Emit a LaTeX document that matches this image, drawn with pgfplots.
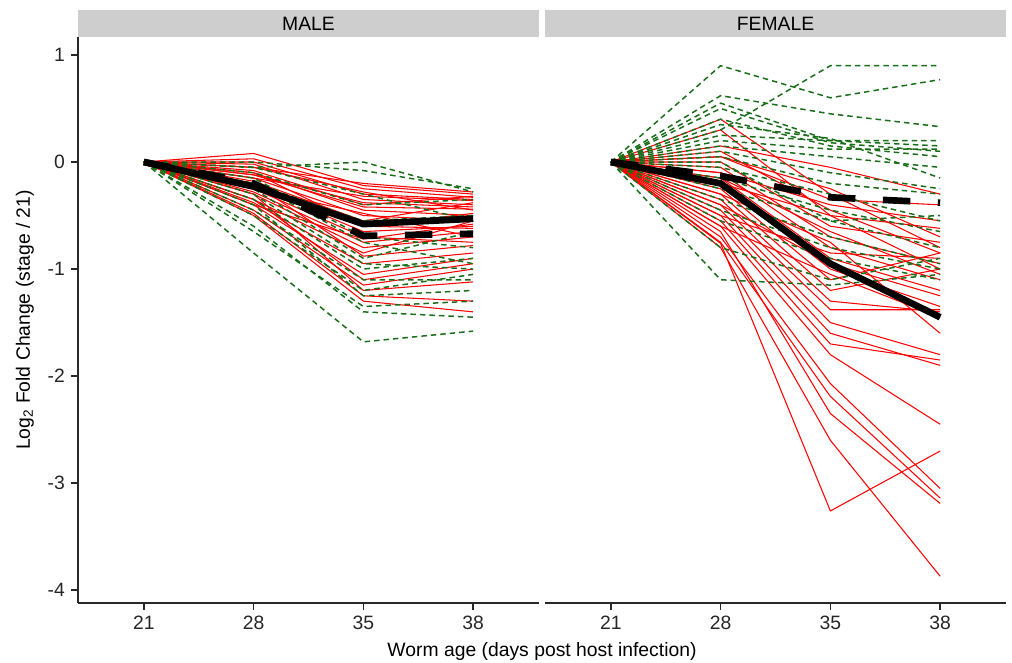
\documentclass[border=0pt]{standalone}
\usepackage{pgfplots}
\pgfplotsset{compat=1.18}
\usepackage{fontspec}
\setmainfont{Liberation Sans}
\definecolor{dgreen}{RGB}{25,110,25}
\definecolor{stripgray}{RGB}{206,206,206}
\definecolor{axgray}{RGB}{40,40,40}
\pgfplotsset{
  panel/.style={
    scale only axis, width=92.2mm, height=113.2mm,
    xmin=0.4, xmax=4.6, ymin=-4.12, ymax=1.168,
    xtick={1,2,3,4}, xticklabels={21,28,35,38},
    axis x line*=bottom,
    axis line style={axgray, line width=1.1pt, -},
    tick style={axgray, line width=0.8pt},
    tick align=outside, major tick length=1.4mm,
    ticklabel style={font=\fontsize{11}{13}\selectfont, text=black!85},
    clip=false,
  },
  r/.style={red, line width=0.6pt, no marks},
  g/.style={dgreen, line width=0.85pt, dash pattern=on 1.1mm off 0.8mm, no marks},
  ms/.style={black, line width=3.8pt, no marks},
  md/.style={black, line width=3.8pt, dash pattern=on 5.5mm off 5.5mm, no marks},
}
\begin{document}
\begin{tikzpicture}
\useasboundingbox (0,0) rectangle (202.4mm,-132.6mm);

% ---------------- MALE ----------------
\begin{axis}[panel, at={(15.6mm,-120.6mm)}, anchor=south west,
  axis y line*=left,
  ytick={-4,-3,-2,-1,0,1}, yticklabels={-4,-3,-2,-1,0,1}]
\fill[stripgray] (rel axis cs:0,1) rectangle ([yshift=5.4mm]rel axis cs:1,1);
\node[font=\fontsize{11}{13}\selectfont] at ([yshift=2.7mm]rel axis cs:0.5,1) {MALE};
% red
\addplot[r] coordinates {(1,0)(2,0.08)(3,-0.22)(4,-0.30)};
\addplot[r] coordinates {(1,0)(2,0.03)(3,-0.25)(4,-0.33)};
\addplot[r] coordinates {(1,0)(2,0.00)(3,-0.30)(4,-0.35)};
\addplot[r] coordinates {(1,0)(2,-0.02)(3,-0.35)(4,-0.40)};
\addplot[r] coordinates {(1,0)(2,-0.05)(3,-0.28)(4,-0.45)};
\addplot[r] coordinates {(1,0)(2,-0.08)(3,-0.40)(4,-0.32)};
\addplot[r] coordinates {(1,0)(2,-0.10)(3,-0.45)(4,-0.50)};
\addplot[r] coordinates {(1,0)(2,-0.12)(3,-0.38)(4,-0.42)};
\addplot[r] coordinates {(1,0)(2,-0.15)(3,-0.50)(4,-0.55)};
\addplot[r] coordinates {(1,0)(2,-0.18)(3,-0.55)(4,-0.38)};
\addplot[r] coordinates {(1,0)(2,-0.20)(3,-0.60)(4,-0.48)};
\addplot[r] coordinates {(1,0)(2,-0.22)(3,-0.65)(4,-0.60)};
\addplot[r] coordinates {(1,0)(2,-0.25)(3,-0.70)(4,-0.75)};
\addplot[r] coordinates {(1,0)(2,-0.28)(3,-0.75)(4,-0.65)};
\addplot[r] coordinates {(1,0)(2,-0.30)(3,-0.80)(4,-0.70)};
\addplot[r] coordinates {(1,0)(2,-0.35)(3,-0.85)(4,-0.55)};
\addplot[r] coordinates {(1,0)(2,-0.38)(3,-0.95)(4,-0.85)};
\addplot[r] coordinates {(1,0)(2,-0.40)(3,-1.05)(4,-0.90)};
\addplot[r] coordinates {(1,0)(2,-0.45)(3,-1.15)(4,-1.00)};
\addplot[r] coordinates {(1,0)(2,-0.48)(3,-1.25)(4,-1.30)};
\addplot[r] coordinates {(1,0)(2,-0.50)(3,-1.30)(4,-1.40)};
\addplot[r] coordinates {(1,0)(2,-0.30)(3,-1.20)(4,-1.12)};
\addplot[r] coordinates {(1,0)(2,-0.20)(3,-0.88)(4,-0.78)};
\addplot[r] coordinates {(1,0)(2,-0.10)(3,-0.60)(4,-0.62)};
\addplot[r] coordinates {(1,0)(2,-0.05)(3,-0.20)(4,-0.28)};
\addplot[r] coordinates {(1,0)(2,-0.15)(3,-0.32)(4,-0.36)};
\addplot[r] coordinates {(1,0)(2,-0.25)(3,-0.48)(4,-0.70)};
\addplot[r] coordinates {(1,0)(2,-0.35)(3,-1.10)(4,-0.95)};
\addplot[r] coordinates {(1,0)(2,-0.12)(3,-0.42)(4,-0.44)};
\addplot[r] coordinates {(1,0)(2,-0.40)(3,-0.72)(4,-0.58)};
% green
\addplot[g] coordinates {(1,0)(2,-0.85)(3,-1.68)(4,-1.58)};
\addplot[g] coordinates {(1,0)(2,-0.60)(3,-1.40)(4,-1.45)};
\addplot[g] coordinates {(1,0)(2,-0.05)(3,0.00)(4,-0.28)};
\addplot[g] coordinates {(1,0)(2,0.00)(3,-0.08)(4,-0.25)};
\addplot[g] coordinates {(1,0)(2,-0.05)(3,-0.30)(4,-0.55)};
\addplot[g] coordinates {(1,0)(2,-0.20)(3,-0.55)(4,-0.50)};
\addplot[g] coordinates {(1,0)(2,-0.25)(3,-0.90)(4,-0.65)};
\addplot[g] coordinates {(1,0)(2,-0.30)(3,-0.95)(4,-1.00)};
\addplot[g] coordinates {(1,0)(2,-0.35)(3,-1.00)(4,-0.90)};
\addplot[g] coordinates {(1,0)(2,-0.45)(3,-1.10)(4,-1.10)};
\addplot[g] coordinates {(1,0)(2,-0.50)(3,-1.20)(4,-1.05)};
\addplot[g] coordinates {(1,0)(2,-0.15)(3,-0.70)(4,-0.80)};
\addplot[g] coordinates {(1,0)(2,-0.10)(3,-0.40)(4,-0.35)};
\addplot[g] coordinates {(1,0)(2,-0.40)(3,-1.25)(4,-1.20)};
\addplot[g] coordinates {(1,0)(2,-0.65)(3,-1.35)(4,-1.30)};
\addplot[g] coordinates {(1,0)(2,-0.20)(3,-0.75)(4,-0.95)};
% means
\addplot[md] coordinates {(1,0)(2,-0.20)(3,-0.69)(4,-0.67)};
\addplot[ms] coordinates {(1,0)(2,-0.23)(3,-0.58)(4,-0.53)};
\end{axis}

% ---------------- FEMALE ----------------
\begin{axis}[panel, at={(109mm,-120.6mm)}, anchor=south west,
  axis y line=none, ytick=\empty]
\fill[stripgray] (rel axis cs:0,1) rectangle ([yshift=5.4mm]rel axis cs:1,1);
\node[font=\fontsize{11}{13}\selectfont] at ([yshift=2.7mm]rel axis cs:0.5,1) {FEMALE};
% red
\addplot[r] coordinates {(1,0)(2,0.40)(3,-0.30)(4,-0.80)};
\addplot[r] coordinates {(1,0)(2,0.30)(3,-0.50)(4,-1.00)};
\addplot[r] coordinates {(1,0)(2,0.15)(3,-0.05)(4,-0.30)};
\addplot[r] coordinates {(1,0)(2,0.05)(3,-0.35)(4,-0.40)};
\addplot[r] coordinates {(1,0)(2,0.00)(3,-0.60)(4,-0.75)};
\addplot[r] coordinates {(1,0)(2,-0.05)(3,-0.70)(4,-0.95)};
\addplot[r] coordinates {(1,0)(2,-0.10)(3,-0.80)(4,-1.10)};
\addplot[r] coordinates {(1,0)(2,-0.15)(3,-0.90)(4,-1.20)};
\addplot[r] coordinates {(1,0)(2,-0.20)(3,-1.00)(4,-1.35)};
\addplot[r] coordinates {(1,0)(2,-0.25)(3,-1.10)(4,-0.85)};
\addplot[r] coordinates {(1,0)(2,-0.30)(3,-1.20)(4,-1.00)};
\addplot[r] coordinates {(1,0)(2,-0.35)(3,-1.30)(4,-1.40)};
\addplot[r] coordinates {(1,0)(2,-0.40)(3,-1.38)(4,-1.38)};
\addplot[r] coordinates {(1,0)(2,-0.45)(3,-1.50)(4,-1.80)};
\addplot[r] coordinates {(1,0)(2,-0.50)(3,-1.60)(4,-1.90)};
\addplot[r] coordinates {(1,0)(2,-0.55)(3,-1.70)(4,-1.85)};
\addplot[r] coordinates {(1,0)(2,-0.60)(3,-1.80)(4,-2.45)};
\addplot[r] coordinates {(1,0)(2,-0.70)(3,-2.07)(4,-3.05)};
\addplot[r] coordinates {(1,0)(2,-0.75)(3,-2.19)(4,-3.14)};
\addplot[r] coordinates {(1,0)(2,-0.65)(3,-2.35)(4,-3.19)};
\addplot[r] coordinates {(1,0)(2,-0.80)(3,-2.60)(4,-3.87)};
\addplot[r] coordinates {(1,0)(2,-0.76)(3,-3.26)(4,-2.70)};
\addplot[r] coordinates {(1,0)(2,-0.20)(3,-0.50)(4,-0.62)};
\addplot[r] coordinates {(1,0)(2,-0.10)(3,-0.40)(4,-0.55)};
\addplot[r] coordinates {(1,0)(2,0.05)(3,-0.25)(4,-0.70)};
\addplot[r] coordinates {(1,0)(2,-0.30)(3,-0.75)(4,-1.60)};
\addplot[r] coordinates {(1,0)(2,-0.40)(3,-0.95)(4,-1.25)};
\addplot[r] coordinates {(1,0)(2,-0.50)(3,-0.85)(4,-0.90)};
\addplot[r] coordinates {(1,0)(2,-0.15)(3,-0.65)(4,-1.05)};
\addplot[r] coordinates {(1,0)(2,0.10)(3,-0.45)(4,-0.85)};
\addplot[r] coordinates {(1,0)(2,-0.60)(3,-1.05)(4,-1.45)};
% green
\addplot[g] coordinates {(1,0)(2,0.90)(3,0.60)(4,0.77)};
\addplot[g] coordinates {(1,0)(2,0.30)(3,0.90)(4,0.90)};
\addplot[g] coordinates {(1,0)(2,0.62)(3,0.45)(4,0.33)};
\addplot[g] coordinates {(1,0)(2,0.55)(3,0.20)(4,0.15)};
\addplot[g] coordinates {(1,0)(2,0.50)(3,0.18)(4,0.10)};
\addplot[g] coordinates {(1,0)(2,0.40)(3,0.15)(4,0.05)};
\addplot[g] coordinates {(1,0)(2,0.20)(3,0.12)(4,0.12)};
\addplot[g] coordinates {(1,0)(2,0.15)(3,0.05)(4,-0.05)};
\addplot[g] coordinates {(1,0)(2,0.10)(3,-0.10)(4,-0.25)};
\addplot[g] coordinates {(1,0)(2,0.05)(3,-0.20)(4,-0.30)};
\addplot[g] coordinates {(1,0)(2,-0.05)(3,-0.30)(4,-0.55)};
\addplot[g] coordinates {(1,0)(2,-0.15)(3,-0.45)(4,-0.65)};
\addplot[g] coordinates {(1,0)(2,-0.25)(3,-0.55)(4,-0.80)};
\addplot[g] coordinates {(1,0)(2,-0.35)(3,-0.70)(4,-0.95)};
\addplot[g] coordinates {(1,0)(2,-0.45)(3,-0.80)(4,-1.00)};
\addplot[g] coordinates {(1,0)(2,-0.55)(3,-0.90)(4,-1.10)};
\addplot[g] coordinates {(1,0)(2,-0.80)(3,-1.10)(4,-0.90)};
\addplot[g] coordinates {(1,0)(2,-1.10)(3,-1.15)(4,-1.05)};
\addplot[g] coordinates {(1,0)(2,0.35)(3,0.22)(4,-0.15)};
\addplot[g] coordinates {(1,0)(2,0.00)(3,-0.55)(4,-0.50)};
\addplot[g] coordinates {(1,0)(2,0.25)(3,0.20)(4,0.20)};
% means
\addplot[md] coordinates {(1,0)(2,-0.13)(3,-0.33)(4,-0.38)};
\addplot[ms] coordinates {(1,0)(2,-0.20)(3,-0.95)(4,-1.45)};
\end{axis}

\node[rotate=90, font=\fontsize{11}{13}\selectfont] at (5mm,-64mm) {Log\textsubscript{2} Fold Change (stage / 21)};
\node[font=\fontsize{11}{13}\selectfont] at (108.4mm,-130.2mm) {Worm age (days post host infection)};
\end{tikzpicture}
\end{document}
